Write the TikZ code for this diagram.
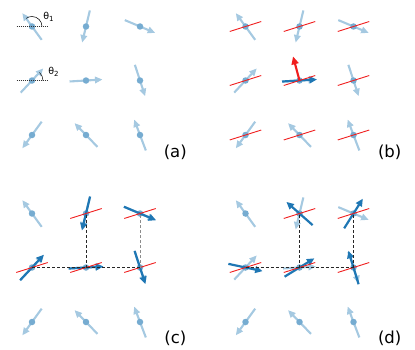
\documentclass[tikz,border=0pt]{standalone}
\usepackage{fontspec}
\setmainfont{DejaVu Sans}
\usetikzlibrary{arrows.meta,calc}
\definecolor{lightb}{RGB}{165,201,225}
\definecolor{dotb}{RGB}{118,172,209}
\definecolor{darkb}{RGB}{31,119,180}
\definecolor{redl}{RGB}{240,30,30}
\tikzset{
  spin/.style={circle,fill=dotb,inner sep=0pt,minimum size=6.5pt},
  lightarrow/.style={draw=lightb,line width=2.1pt,-{Triangle[length=7.5pt,width=6.5pt]}},
  darkarrow/.style={draw=darkb,line width=2.2pt,-{Triangle[length=7.5pt,width=6.8pt]}},
  redarrow/.style={draw=redl,line width=2.1pt,-{Triangle[length=8pt,width=7pt]}},
  redline/.style={draw=redl,line width=0.9pt},
  guide/.style={draw=black!80,line width=0.5pt,dash pattern=on 1.2pt off 0.8pt},
  anglearc/.style={draw=black,line width=0.5pt},
  dashline/.style={draw=black!85,line width=1pt,dash pattern=on 3pt off 2pt},
  grayline/.style={draw=black!45,line width=1pt,dash pattern=on 3pt off 2pt},
  panellabel/.style={font=\fontsize{16.5}{18}\selectfont,inner sep=0pt},
  thetalabel/.style={font=\fontsize{9.5}{10}\selectfont,inner sep=0pt}
}
\begin{document}
\begin{tikzpicture}[x=1pt,y=1pt]
\useasboundingbox (0,0) rectangle (415,349);
% positions
\foreach \p/\ox/\oy in {a/0/0,b/213.5/0,c/0/-187,d/213.5/-187}{
  \foreach \r/\yy in {1/322.5,2/268.5,3/214}{
    \foreach \c/\xx in {1/32,2/86,3/140}{
      \pgfmathsetmacro\px{\xx+\ox}
      \pgfmathsetmacro\py{\yy+\oy}
      \coordinate (p\p\r\c) at (\px,\py);
    }
  }
}
% light (original) spins
\foreach \rc/\t in {11/126,12/-103.5,13/-22.8,21/47,22/3.4,23/-71.9,31/234,32/134,33/110.7}{
  \foreach \p in {a,b,c,d}{
    \draw[lightarrow] ($(p\p\rc)+(\t:-16.5)$) -- ($(p\p\rc)+(\t:16.5)$);
    \node[spin] (\p\rc) at (p\p\rc) {};
  }
}
% angle annotations in (a)
\draw[guide] ($(a11)+(-15.5,0)$) -- ($(a11)+(15,0)$);
\draw[anglearc] ($(a11)+(10,0)$) arc[start angle=0,end angle=126,radius=10];
\node[thetalabel] (t1) at ($(a11)+(16.5,9.5)$) {θ\raisebox{-2pt}{\fontsize{7}{7}\selectfont 1}};
\draw[guide] ($(a21)+(-15.5,0)$) -- ($(a21)+(15,0)$);
\draw[anglearc] ($(a21)+(11,0)$) arc[start angle=0,end angle=47,radius=11];
\node[thetalabel] (t2) at ($(a21)+(21.5,9)$) {θ\raisebox{-2pt}{\fontsize{7}{7}\selectfont 2}};
% dark arrows
\draw[darkarrow] ($(b22)+(3.4:-17.5)$) -- ($(b22)+(3.4:17.5)$);
\foreach \rc/\t in {12/-103.5,13/-22.8,21/47,22/3.4,23/-71.9}{
  \draw[darkarrow] ($(c\rc)+(\t:-17.5)$) -- ($(c\rc)+(\t:17.5)$);
}
\foreach \rc/\t in {12/138.5,13/57.8,21/-12,22/31.6,23/106.9}{
  \draw[darkarrow] ($(d\rc)+(\t:-17.5)$) -- ($(d\rc)+(\t:17.5)$);
}
% red reflection lines
\foreach \rc in {11,12,13,21,22,23,31,32,33}{
  \draw[redline] ($(b\rc)+(17.5:-16.5)$) -- ($(b\rc)+(17.5:16.5)$);
}
\foreach \p in {c,d}{
  \foreach \rc in {12,13,21,22,23}{
    \draw[redline] ($(\p\rc)+(17.5:-16.5)$) -- ($(\p\rc)+(17.5:16.5)$);
  }
}
\draw[redarrow] (b22.center) -- ($(b22)+(105:25)$);
% cluster bonds
\draw[dashline] (c21.center) -- (c23.center);
\draw[dashline] (c22.center) -- (c12.center);
\draw[grayline] (c23.center) -- (c13.center);
\draw[dashline] (d21.center) -- (d23.center);
\draw[dashline] (d22.center) -- (d12.center);
\draw[dashline] (d23.center) -- (d13.center);
% panel labels
\node[panellabel] (la) at (175.3,196.5) {(a)};
\node[panellabel] (lb) at (389.7,196.5) {(b)};
\node[panellabel] (lc) at (175.3,10.5) {(c)};
\node[panellabel] (ld) at (389.7,10.5) {(d)};
\end{tikzpicture}
\end{document}
